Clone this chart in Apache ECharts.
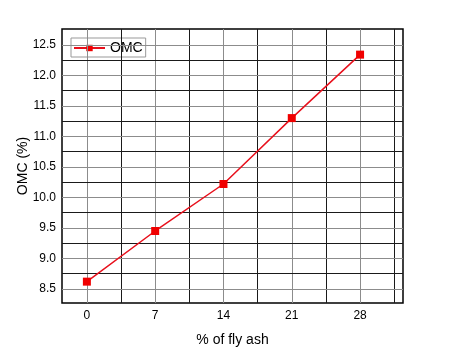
<!DOCTYPE html>
<html><head><meta charset="utf-8">
<script src="https://cdn.jsdelivr.net/npm/echarts@6/dist/echarts.min.js"></script>
<style>html,body{margin:0;padding:0;background:#fff}#c{width:451px;height:356px}</style>
</head><body><div id="c"></div>
<script>
var flyAsh = [0, 7, 14, 21, 28];
var omc = [8.62, 9.45, 10.22, 11.30, 12.34];
var xTicks = [0, 7, 14, 21, 28];
var yTicks = [8.5, 9.0, 9.5, 10.0, 10.5, 11.0, 11.5, 12.0, 12.5];
var seriesName = 'OMC';

var majorColor = '#8c8c8c', minorColor = '#1a1a1a';
var gridLines = [];
xTicks.forEach(function(v){
  gridLines.push({xAxis: v, lineStyle:{color: majorColor}});
  gridLines.push({xAxis: v + 3.5, lineStyle:{color: minorColor}});
});
yTicks.forEach(function(v, i){
  gridLines.push({yAxis: v, lineStyle:{color: majorColor}});
  if (i < yTicks.length - 1) gridLines.push({yAxis: v + 0.25, lineStyle:{color: minorColor}});
});

var chart = echarts.init(document.getElementById('c'), null, {renderer:'canvas'});
chart.setOption({
  animation: false,
  backgroundColor: '#fff',
  textStyle: {fontFamily: 'Liberation Sans, Arial, sans-serif'},
  grid: {left: 62, top: 29, right: 48, bottom: 53, show: true, borderColor: '#000', borderWidth: 1.5, backgroundColor: 'transparent'},
  legend: {
    data: [seriesName], left: 71, top: 38, orient: 'horizontal',
    backgroundColor: '#fff', borderColor: '#999', borderWidth: 1, borderRadius: 0,
    padding: [3, 3, 2, 2], itemWidth: 31, itemHeight: 8, itemGap: 4,
    textStyle: {fontSize: 14, color: '#000', fontFamily: 'Liberation Sans, Arial, sans-serif'}
  },
  xAxis: {
    type: 'value', min: -2.55, max: 32.4,
    name: '% of fly ash', nameLocation: 'middle', nameGap: 30, nameMoveOverlap: false,
    nameTextStyle: {fontSize: 14, color: '#000'},
    axisLine: {show: false}, axisTick: {show: false},
    splitLine: {show: false},
    axisLabel: {customValues: xTicks, color: '#000', fontSize: 12, margin: 7}
  },
  yAxis: {
    type: 'value', min: 8.27, max: 12.76,
    name: 'OMC (%)', nameLocation: 'middle', nameGap: 32, nameRotate: 90, nameMoveOverlap: false,
    nameTextStyle: {fontSize: 14, color: '#000'},
    axisLine: {show: false}, axisTick: {show: false},
    splitLine: {show: false},
    axisLabel: {customValues: yTicks, color: '#000', fontSize: 12, margin: 6,
      formatter: function(v){ return v.toFixed(1); }}
  },
  series: [
    {
      type: 'line', name: '_grid', data: [[0, 9]], symbol: 'none', lineStyle: {opacity: 0},
      silent: true, z: 1, legendHoverLink: false,
      markLine: {silent: true, symbol: ['none', 'none'], label: {show: false},
        lineStyle: {type: 'solid', width: 1}, data: gridLines, animation: false}
    },
    {
      type: 'line', name: seriesName, z: 5,
      data: flyAsh.map(function(x, i){ return [x, omc[i]]; }),
      symbol: 'rect', symbolSize: 8,
      lineStyle: {color: '#e8101c', width: 1.5},
      itemStyle: {color: '#f00000'}
    }
  ]
});
</script></body></html>
